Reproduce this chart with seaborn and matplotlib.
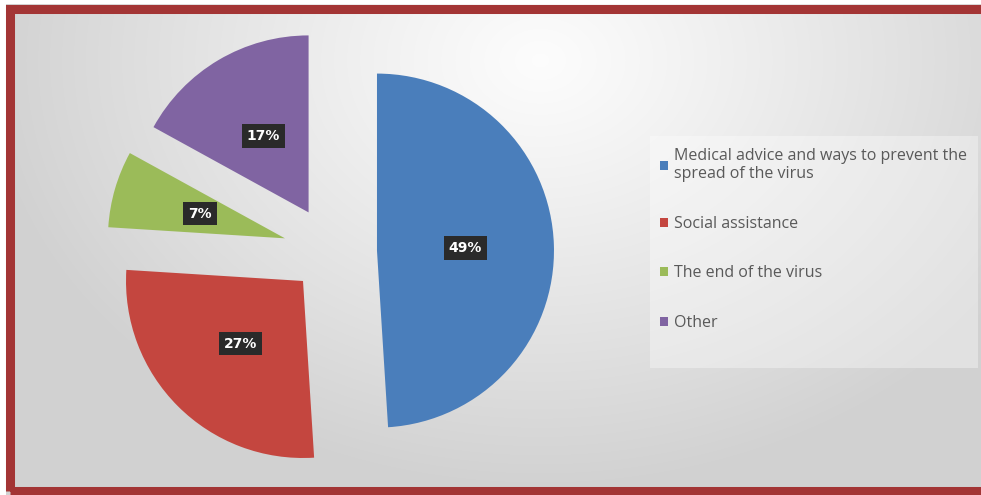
import numpy as np
import matplotlib
matplotlib.use("Agg")
import matplotlib.pyplot as plt
import seaborn as sns
from matplotlib.patches import Rectangle

# ---- data ----
categories = ["Medical advice and ways to prevent the\nspread of the virus",
              "Social assistance", "The end of the virus", "Other"]
shares = [49, 27, 7, 17]
pct_labels = ["49%", "27%", "7%", "17%"]

# ---- style ----
colors = ["#4a7ebb", "#c4463f", "#9bbb59", "#8064a2"]
explode = [45, 41, 49, 46]

sns.set_theme(style="white")
plt.rcParams['font.family'] = ['Open Sans', 'DejaVu Sans']

W, H = 981, 495
fig = plt.figure(figsize=(W / 100, H / 100), dpi=100)
fig.patch.set_facecolor("white")
ax = fig.add_axes([0, 0, 1, 1])

# background gradient
yy, xx = np.mgrid[0:H, 0:W]
d = np.sqrt(((xx - 540) / 560.0) ** 2 + ((yy - 60) / 430.0) ** 2)
val = 0.99 - 0.17 * np.clip(d, 0, 1.0) ** 1.1
img = np.dstack([val, val, val])
img[:4, :, :] = 1.0
img[:, :6, :] = 1.0
ax.imshow(img, extent=(0, W, 0, H), origin="upper", zorder=0, aspect="auto")

# pie
wedges, _, autotexts = ax.pie(
    shares, colors=colors, explode=explode, startangle=90, counterclock=False,
    center=(332, H - 252), radius=177, pctdistance=0.5,
    autopct=lambda p: "", wedgeprops=dict(linewidth=0))
for t, lab in zip(autotexts, pct_labels):
    t.set_text(lab)
    t.set_color("white")
    t.set_fontweight("bold")
    t.set_fontsize(10)
    t.set_family(["DejaVu Sans"])
    t.set_bbox(dict(boxstyle="square,pad=0.35", fc="#2a2a2a", ec="none"))

ax.set_xlim(0, W)
ax.set_ylim(0, H)
ax.set_aspect("auto")
ax.axis("off")

# legend background box
ax.add_patch(Rectangle((650, H - 368), 328, 232, facecolor="white",
                       alpha=0.35, edgecolor="none", zorder=1))
leg = ax.legend(wedges, categories, loc="upper left",
                bbox_to_anchor=(652 / W, 1 - 140 / H), bbox_transform=fig.transFigure,
                frameon=False, fontsize=11.5, handlelength=0.5, handleheight=0.5,
                handletextpad=0.35, labelspacing=2.1, borderpad=0)
for txt in leg.get_texts():
    txt.set_color("#595959")

# frame
ax.add_patch(Rectangle((10, 4.5), W, H - 13.5, fill=False, edgecolor="#a33535",
                       linewidth=6.5, zorder=5))

fig.savefig("out.png", dpi=100)
